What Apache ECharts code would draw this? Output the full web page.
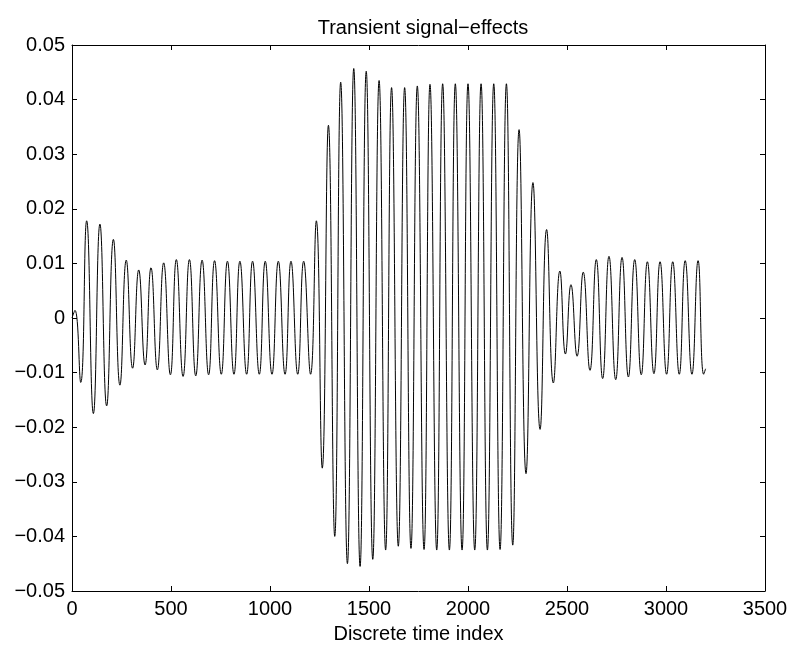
<!DOCTYPE html>
<html>
<head>
<meta charset="utf-8">
<script src="https://cdn.jsdelivr.net/npm/echarts@6/dist/echarts.min.js"></script>
<style>
html,body{margin:0;padding:0;background:#fff;}
#chart{width:794px;height:649px;}
</style>
</head>
<body>
<div id="chart"></div>
<script>
// Extrema (peaks / troughs) of the signal
var timeIndex = [
  0, 15, 44, 74, 108, 141, 175, 209, 242, 274, 306, 337, 369, 399, 431, 463, 497, 527, 561, 593,
  625, 657, 690, 720, 754, 785, 818, 848, 882, 912, 946, 976, 1010, 1042, 1076, 1106, 1140, 1170, 1205,
  1234, 1264, 1295, 1327, 1357, 1391, 1423, 1455, 1486, 1519, 1551, 1584, 1614, 1648, 1680, 1712,
  1744, 1778, 1808, 1842, 1872, 1906, 1936, 1970, 2000, 2034, 2066, 2098, 2130, 2162, 2194, 2226,
  2258, 2293, 2328, 2364, 2397, 2431, 2464, 2492, 2520, 2551, 2582, 2616, 2648, 2680, 2712, 2746,
  2778, 2810, 2842, 2875, 2906, 2939, 2970, 3003, 3034, 3067, 3097, 3131, 3162, 3190, 3200
];
var amplitude = [
  0, 0.0014, -0.0118, 0.0178, -0.0175, 0.0172, -0.0161, 0.0144, -0.0123, 0.0106, -0.0092, 0.0088, -0.0086, 0.0092, -0.0095, 0.0101, -0.0104, 0.0107, -0.0107, 0.0107,
  -0.0106, 0.0106, -0.0104, 0.0105, -0.0103, 0.0104, -0.0103, 0.0104, -0.0103, 0.0104, -0.0103, 0.0104, -0.0103, 0.0104, -0.0103, 0.0104, -0.0103, 0.0104, -0.0103,
  0.0178, -0.0275, 0.0353, -0.0400, 0.0432, -0.0450, 0.0457, -0.0455, 0.0452, -0.0442, 0.0435, -0.0425, 0.0422, -0.0418, 0.0422, -0.0422,
  0.0425, -0.0424, 0.0428, -0.0425, 0.0429, -0.0425, 0.0429, -0.0425, 0.0429, -0.0425, 0.0429, -0.0425, 0.0429, -0.0424, 0.0429, -0.0416,
  0.0345, -0.0285, 0.0248, -0.0204, 0.0162, -0.0119, 0.0086, -0.0066, 0.0061, -0.0070, 0.0084, -0.0096, 0.0107, -0.0111, 0.0113, -0.0113,
  0.0111, -0.0108, 0.0107, -0.0104, 0.0103, -0.0102, 0.0103, -0.0103, 0.0103, -0.0103, 0.0105, -0.0103, 0.0105, -0.0103, -0.0093
];
var xTickLabels = ['0', '500', '1000', '1500', '2000', '2500', '3000', '3500'];
var yTickLabels = ['\u22120.05', '\u22120.04', '\u22120.03', '\u22120.02', '\u22120.01', '0', '0.01', '0.02', '0.03', '0.04', '0.05'];
var titleText = 'Transient signal\u2212effects';
var xLabel = 'Discrete time index';

var X_MIN = 0, X_MAX = 3500, X_STEP = 500;
var Y_MIN = -0.05, Y_MAX = 0.05, Y_STEP = 0.01;

var seriesData = timeIndex.map(function (t, i) { return [t, amplitude[i]]; });

var FONT = 'Liberation Sans, Arial, Helvetica, sans-serif';
var chart = echarts.init(document.getElementById('chart'), null, {renderer: 'canvas'});

function baseAxisStyle() {
  return {
    axisLine: {show: true, onZero: false, lineStyle: {color: '#000', width: 1}},
    axisTick: {show: true, inside: true, length: 5, lineStyle: {color: '#000', width: 1}},
    splitLine: {show: false},
    minorTick: {show: false}
  };
}

var xMain = Object.assign(baseAxisStyle(), {
  type: 'value', position: 'bottom', min: X_MIN, max: X_MAX, interval: X_STEP,
  name: xLabel, nameLocation: 'middle', nameGap: 33,
  nameTextStyle: {color: '#000', fontSize: 20, fontFamily: FONT},
  axisLabel: {
    show: true, margin: 8, color: '#000', fontSize: 20, fontFamily: FONT,
    formatter: function (v) { return xTickLabels[Math.round((v - X_MIN) / X_STEP)]; }
  }
});
var xTop = Object.assign(baseAxisStyle(), {
  type: 'value', position: 'top', min: X_MIN, max: X_MAX, interval: X_STEP,
  axisLabel: {show: false}
});
var yMain = Object.assign(baseAxisStyle(), {
  type: 'value', position: 'left', min: Y_MIN, max: Y_MAX, interval: Y_STEP,
  axisLabel: {
    show: true, margin: 7, color: '#000', fontSize: 20, fontFamily: FONT,
    formatter: function (v) { return yTickLabels[Math.round((v - Y_MIN) / Y_STEP)]; }
  }
});
var yRight = Object.assign(baseAxisStyle(), {
  type: 'value', position: 'right', min: Y_MIN, max: Y_MAX, interval: Y_STEP,
  axisLabel: {show: false}
});

chart.setOption({
  animation: false,
  backgroundColor: '#fff',
  title: {
    text: titleText, left: 418, top: 13, textAlign: 'center',
    textStyle: {color: '#000', fontSize: 20, fontWeight: 'normal', fontFamily: FONT}
  },
  grid: {left: 72, right: 29, top: 45, bottom: 58, containLabel: false},
  xAxis: [xMain, xTop],
  yAxis: [yMain, yRight],
  series: [{
    type: 'line', xAxisIndex: 0, yAxisIndex: 0,
    data: seriesData, smooth: 0.5, showSymbol: false, symbol: 'none',
    lineStyle: {color: '#000', width: 1}
  }]
});
</script>
</body>
</html>
